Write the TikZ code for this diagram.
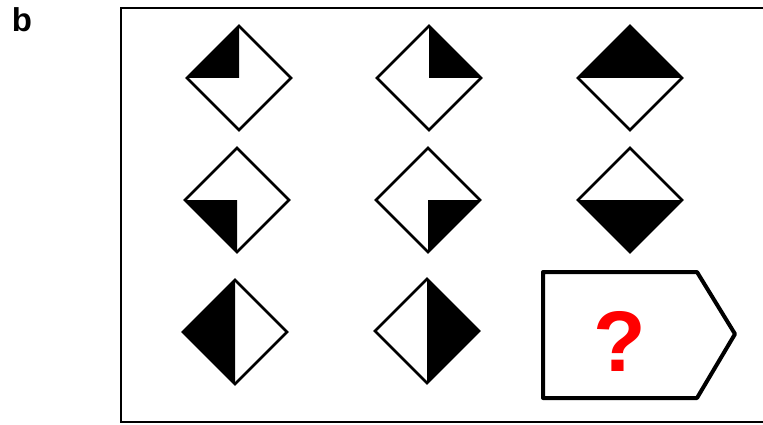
\documentclass[tikz,border=0pt]{standalone}
\usepackage{fontspec}
\setmainfont{Liberation Sans}
\usetikzlibrary{shapes.geometric}
\begin{document}
\begin{tikzpicture}[x=1pt, y=-1pt,
    tile/.style={diamond, draw, line width=2.8pt, minimum width=104pt, minimum height=104pt, inner sep=0pt, outer sep=0pt}]
    \useasboundingbox (0,0) rectangle (763,425);
    \node[font=\fontsize{33}{33}\selectfont\bfseries, inner sep=0pt] (lbl) at (22,20) {b};
    \draw[line width=2.2pt] (763,8) -- (121,8) -- (121,422) -- (763,422);
    % row 1
    \node[tile] (d11) at (239,78) {};
    \node[tile] (d12) at (429,78) {};
    \node[tile] (d13) at (630,78) {};
    \fill (d11.west) -- (d11.north) -- (d11.center) -- cycle;
    \fill (d12.north) -- (d12.east) -- (d12.center) -- cycle;
    \fill (d13.west) -- (d13.north) -- (d13.east) -- cycle;
    % row 2
    \node[tile] (d21) at (237,200) {};
    \node[tile] (d22) at (428,200) {};
    \node[tile] (d23) at (630,200) {};
    \fill (d21.west) -- (d21.center) -- (d21.south) -- cycle;
    \fill (d22.center) -- (d22.east) -- (d22.south) -- cycle;
    \fill (d23.west) -- (d23.east) -- (d23.south) -- cycle;
    % row 3
    \node[tile] (d31) at (235,332) {};
    \node[tile] (d32) at (427,331) {};
    \fill (d31.north) -- (d31.west) -- (d31.south) -- cycle;
    \fill (d32.north) -- (d32.east) -- (d32.south) -- cycle;
    % the missing tile
    \draw[line width=4pt, line join=round] (543,272) -- (697,272) -- (735,334) -- (697,398) -- (543,398) -- cycle;
    \node[text=red, font=\fontsize{86}{86}\selectfont\bfseries, inner sep=0pt] (qmark) at (620,341) {?};
\end{tikzpicture}
\end{document}
